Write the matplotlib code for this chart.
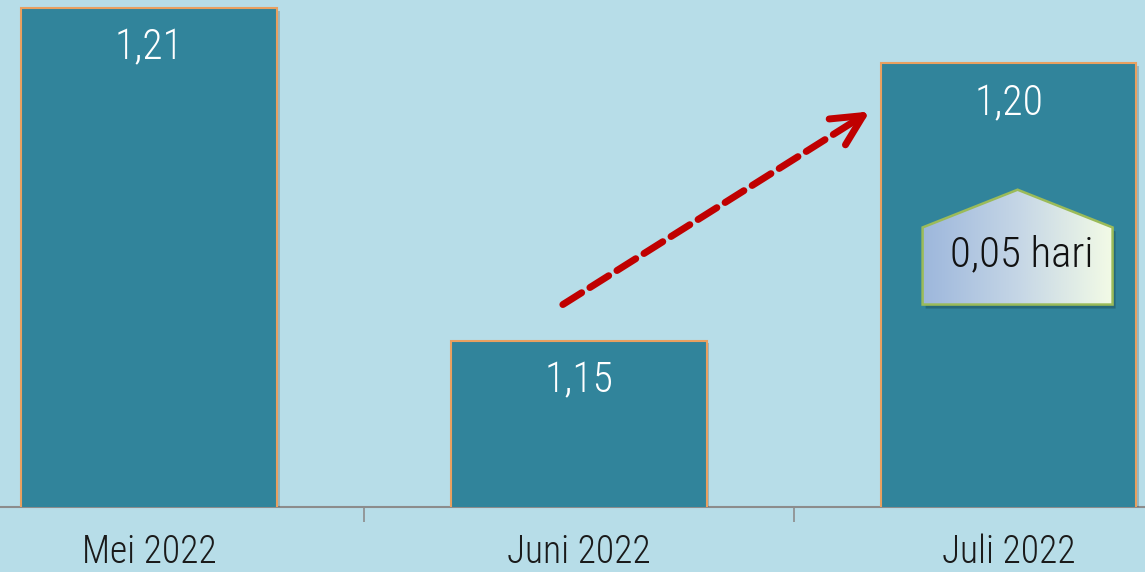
import numpy as np
import matplotlib.pyplot as plt
import matplotlib.transforms as mtransforms
from matplotlib.patches import Polygon
from matplotlib.colors import LinearSegmentedColormap
import matplotlib.patheffects as pe

plt.rcParams['font.family'] = ['Roboto Condensed', 'DejaVu Sans']
plt.rcParams['font.weight'] = 'light'

# data
months = ["Mei 2022", "Juni 2022", "Juli 2022"]
values = [1.21, 1.15, 1.20]
value_labels = ["1,21", "1,15", "1,20"]
diff_label = "0,05 hari"

bg = '#b7dde8'
bar_color = '#31849b'

fig = plt.figure(figsize=(11.45, 5.72), dpi=100)
fig.patch.set_facecolor(bg)
ax = fig.add_axes([0, 0.1136, 1, 0.8864])
ax.set_facecolor(bg)

x = np.arange(len(months))
bars = ax.bar(x, values, width=0.595, color=bar_color, edgecolor='#e9a060', linewidth=1.5,
              zorder=3)
for b in bars:
    b.set_path_effects([pe.SimplePatchShadow(offset=(2, -2), alpha=0.2), pe.Normal()])

for xi, v, lab in zip(x, values, value_labels):
    ax.annotate(lab, (xi, v), xytext=(0, -29), textcoords='offset points',
                ha='center', va='center', color='white', fontsize=30, fontweight='light', zorder=4)

ax.set_xlim(-0.3465, 2.3174)
ax.set_ylim(1.12, 1.2114)

ax.set_xticks(x)
ax.set_xticklabels(months, fontsize=27, color='#1a1a1a', fontweight='light')
ax.tick_params(axis='x', which='major', length=0, pad=19)
ax.set_xticks([0.5, 1.5], minor=True)
ax.tick_params(axis='x', which='minor', length=11, width=1.2, color='#8c8c8c')
ax.set_yticks([])
for s in ['top', 'left', 'right']:
    ax.spines[s].set_visible(False)
ax.spines['bottom'].set_color('#8c8c8c')
ax.spines['bottom'].set_linewidth(1.5)

# dashed arrow from Juni to Juli
start, end = (0.963, 1.1565), (1.677, 1.1913)
ax.annotate('', xy=end, xytext=start,
            arrowprops=dict(arrowstyle='-', color='#c00000', lw=5,
                            linestyle=(0, (3.2, 1.4)), shrinkA=0, shrinkB=6),
            zorder=5)
# solid head
ax.annotate('', xy=end, xytext=(end[0] - 0.03, end[1] - 0.03 * (end[1] - start[1]) / (end[0] - start[0])),
            arrowprops=dict(arrowstyle='->,head_length=1.0,head_width=0.5', color='#c00000',
                            lw=5, mutation_scale=22, shrinkA=0, shrinkB=0,
                            capstyle='round', joinstyle='round'),
            zorder=5)

# pentagon label box with gradient
pts = [(1.80, 1.1565), (1.80, 1.1704), (2.021, 1.1772), (2.242, 1.1704), (2.242, 1.1565)]
shadow_tr = ax.transData + mtransforms.ScaledTranslation(3 / 100, -4 / 100, fig.dpi_scale_trans)
shadow = Polygon(pts, closed=True, facecolor='#1d4f5c', alpha=0.5, edgecolor='none', zorder=5,
                 transform=shadow_tr)
ax.add_patch(shadow)
poly = Polygon(pts, closed=True, facecolor='none', edgecolor='#9bbb59', linewidth=1.8, zorder=7)
ax.add_patch(poly)
grad = np.linspace(0, 1, 256).reshape(1, -1)
cmap = LinearSegmentedColormap.from_list('g', ['#9db7dc', '#c5d6e6', '#f3fbe6'])
im = ax.imshow(grad, extent=(1.80, 2.242, 1.1565, 1.1772), aspect='auto', cmap=cmap, zorder=6)
im.set_clip_path(poly)
ax.text(2.03, 1.1655, diff_label, ha='center', va='center', fontsize=31, fontweight='light',
        color='#111111', zorder=8)

fig.savefig('out.png', dpi=100, facecolor=bg)
